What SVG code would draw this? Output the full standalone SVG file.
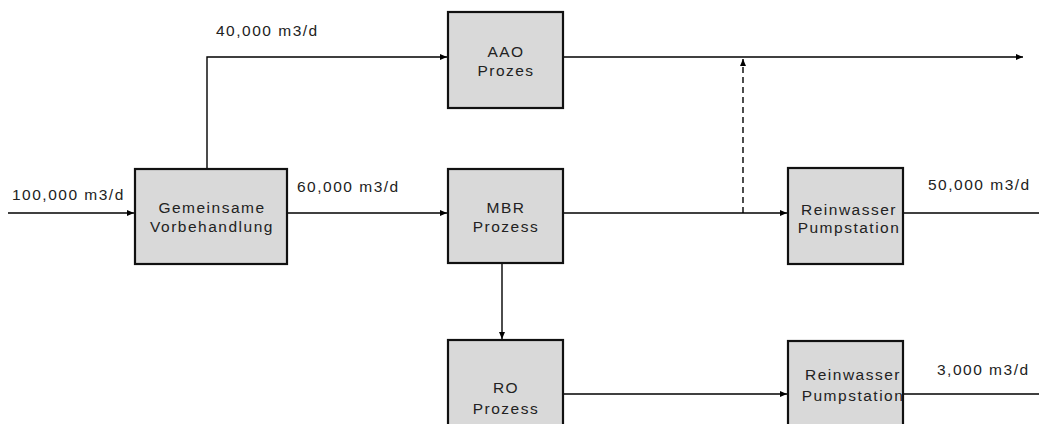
<svg xmlns="http://www.w3.org/2000/svg" width="1039" height="424" viewBox="0 0 1039 424">
<style>
.box{fill:#d9d9d9;stroke:#111;stroke-width:2.2}
.t{font-family:"Liberation Sans",Arial,sans-serif;font-size:15.5px;fill:#222;letter-spacing:1.5px}
.c{text-anchor:middle}
.ln{fill:none;stroke:#000;stroke-width:1.4}
.dash{stroke-dasharray:6 4}
</style>
<defs>
<marker id="ah" markerWidth="8" markerHeight="6" refX="7" refY="3" orient="auto" markerUnits="userSpaceOnUse">
<path d="M0,0 L7,3 L0,6 z" fill="#000"/>
</marker>
</defs>
<rect width="1039" height="424" fill="#fff"/>
<g id="connectors">
<line class="ln" x1="8" y1="213" x2="134" y2="213" marker-end="url(#ah)"/>
<polyline class="ln" points="207,169 207,57 447,57" marker-end="url(#ah)"/>
<line class="ln" x1="287" y1="213" x2="447" y2="213" marker-end="url(#ah)"/>
<line class="ln" x1="563" y1="57" x2="1023" y2="57" marker-end="url(#ah)"/>
<line class="ln dash" x1="743" y1="213" x2="743" y2="59" marker-end="url(#ah)"/>
<line class="ln" x1="563" y1="213" x2="787" y2="213" marker-end="url(#ah)"/>
<line class="ln" x1="903" y1="213" x2="1039" y2="213"/>
<line class="ln" x1="502" y1="263" x2="502" y2="339" marker-end="url(#ah)"/>
<line class="ln" x1="563" y1="394" x2="787" y2="394" marker-end="url(#ah)"/>
<line class="ln" x1="903" y1="394" x2="1039" y2="394"/>
</g>
<g id="labels">
<text class="t" x="12" y="200">100,000 m3/d</text>
<text class="t" x="216" y="36">40,000 m3/d</text>
<text class="t" x="297" y="192">60,000 m3/d</text>
<text class="t" x="928" y="190">50,000 m3/d</text>
<text class="t" x="937" y="375">3,000 m3/d</text>
</g>
<g id="n_vorbehandlung">
<rect class="box" x="135" y="169" width="152" height="95"/>
<text class="t c" x="212" y="213">Gemeinsame</text>
<text class="t c" x="212" y="232">Vorbehandlung</text>
</g>
<g id="n_aao">
<rect class="box" x="448" y="12" width="115" height="96"/>
<text class="t c" x="506" y="57">AAO</text>
<text class="t c" x="506" y="76">Prozes</text>
</g>
<g id="n_mbr">
<rect class="box" x="448" y="169" width="115" height="94"/>
<text class="t c" x="506" y="213">MBR</text>
<text class="t c" x="506" y="232">Prozess</text>
</g>
<g id="n_ro">
<rect class="box" x="448" y="340" width="115" height="96"/>
<text class="t c" x="506" y="393">RO</text>
<text class="t c" x="506" y="414">Prozess</text>
</g>
<g id="n_pump1">
<rect class="box" x="788" y="168" width="115" height="96"/>
<text class="t c" x="849" y="215">Reinwasser</text>
<text class="t c" x="849" y="233">Pumpstation</text>
</g>
<g id="n_pump2">
<rect class="box" x="788" y="341" width="115" height="96"/>
<text class="t c" x="853" y="380">Reinwasser</text>
<text class="t c" x="853" y="401">Pumpstation</text>
</g>
</svg>
